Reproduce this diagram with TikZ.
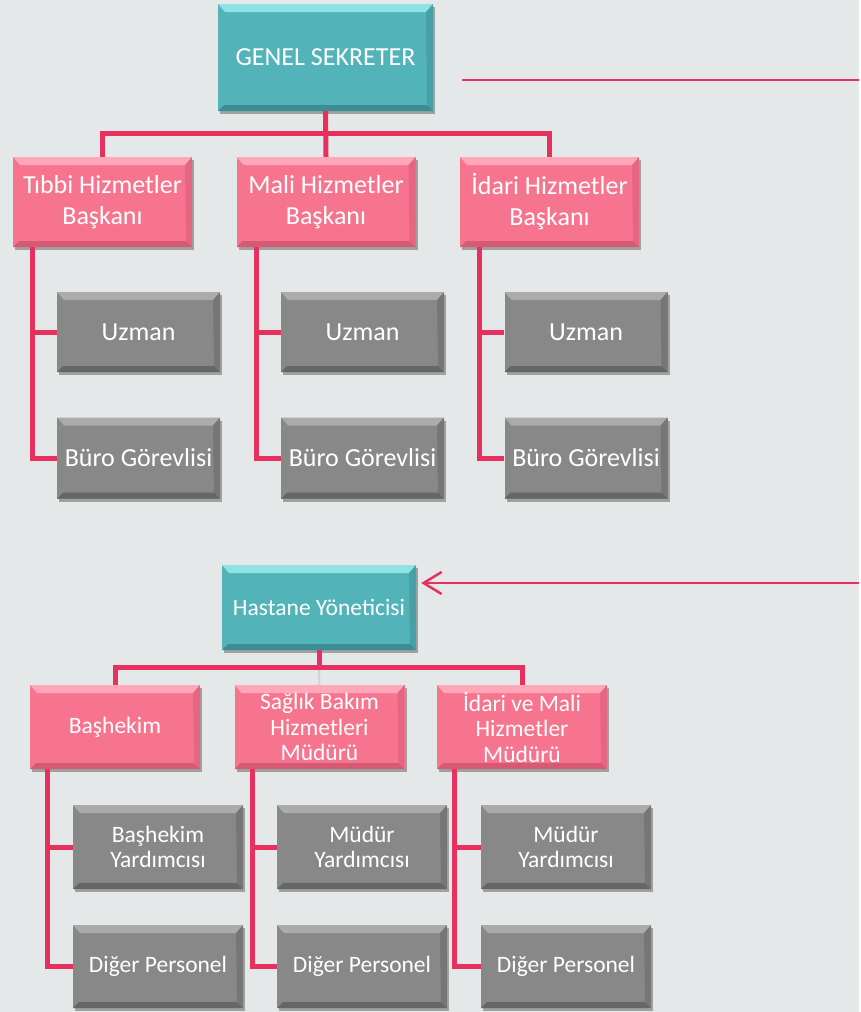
\documentclass[tikz,border=0pt]{standalone}
\usepackage{fontspec}
\setmainfont{Carlito}
\usetikzlibrary{arrows.meta,shadows}

\definecolor{tealbox}{HTML}{52B4B9}
\definecolor{teallight}{HTML}{8FE2E5}
\definecolor{tealdark}{HTML}{3C8E92}
\definecolor{pinkbox}{HTML}{F7748F}
\definecolor{pinklight}{HTML}{FFA6B9}
\definecolor{pinkdark}{HTML}{D65A74}
\definecolor{graybox}{HTML}{888888}
\definecolor{graylight}{HTML}{ABABAB}
\definecolor{graydark}{HTML}{666666}
\definecolor{linkred}{HTML}{E8305E}
\definecolor{backcol}{HTML}{E4E8E8}

\tikzset{
    bevel/.style 2 args={path picture={
        \fill[#1] (path picture bounding box.north west) -- (path picture bounding box.north east)
            -- ([shift={(-7pt,-8pt)}]path picture bounding box.north east)
            -- ([shift={(7pt,-8pt)}]path picture bounding box.north west) -- cycle;
        \fill[#2] (path picture bounding box.south west) -- (path picture bounding box.south east)
            -- ([shift={(-6pt,6pt)}]path picture bounding box.south east)
            -- ([shift={(6pt,6pt)}]path picture bounding box.south west) -- cycle;
        \fill[#2, opacity=.5] (path picture bounding box.south east) -- (path picture bounding box.north east)
            -- ([shift={(-7pt,-8pt)}]path picture bounding box.north east)
            -- ([shift={(-6pt,6pt)}]path picture bounding box.south east) -- cycle;
    }},
    box/.style={rectangle, inner sep=0pt, align=center, text=white,
        drop shadow={shadow xshift=2pt, shadow yshift=-3pt, fill=black, opacity=.3}},
    chief/.style={box, fill=tealbox, bevel={teallight}{tealdark}},
    head/.style={box, fill=pinkbox, bevel={pinklight}{pinkdark}},
    staff/.style={box, fill=graybox, bevel={graylight}{graydark}},
    big/.style={font=\fontsize{26}{31}\selectfont},
    small/.style={font=\fontsize{23.5}{25.5}\selectfont},
    conn/.style={draw=linkred, line width=5pt},
    pointer/.style={draw=linkred, line width=2.5pt}
}

\begin{document}
\begin{tikzpicture}[x=1pt, y=-1pt]
    \fill[backcol] (0,0) rectangle (859,1012);

    % upper chart
    \node[chief, big, minimum width=215, minimum height=107] (gs) at (325.5,57.5) {GENEL SEKRETER};
    \node[head, big, minimum width=179, minimum height=90] (tibbi) at (102.5,202) {Tıbbi Hizmetler\\Başkanı};
    \node[head, big, minimum width=179, minimum height=90] (mali) at (326,202) {Mali Hizmetler\\Başkanı};
    \node[head, big, minimum width=179, minimum height=90] (idari) at (549.5,202) {İdari Hizmetler\\Başkanı};

    \foreach \n/\h/\x in {1/tibbi/138.5, 2/mali/362.5, 3/idari/586} {
        \node[staff, big, minimum width=163, minimum height=80] (uzman\n) at (\x,332) {Uzman};
        \node[staff, big, minimum width=163, minimum height=81] (buro\n) at (\x,458) {Büro Görevlisi};
        \draw[conn] ([xshift=20pt]\h.south west) |- (uzman\n.west);
        \draw[conn] ([xshift=20pt]\h.south west) |- (buro\n.west);
    }

    \coordinate (topbus) at (326,133);
    \draw[conn] (tibbi.north) |- (topbus) -| (idari.north);
    \draw[conn] (gs.south) -- (mali.north);

    \coordinate (topend) at (859,80);
    \draw[pointer] ([xshift=29pt]gs.east |- topend) -- (topend);

    % lower chart
    \node[chief, small, minimum width=194, minimum height=85] (hy) at (319,607.5) {Hastane Yöneticisi};
    \node[head, small, minimum width=170, minimum height=84] (bashekim) at (115,727) {Başhekim};
    \node[head, small, minimum width=170, minimum height=84] (saglik) at (319.5,727) {Sağlık Bakım\\Hizmetleri\\Müdürü};
    \node[head, small, minimum width=170, minimum height=84] (idarimali) at (522,727) {İdari ve Mali\\Hizmetler\\Müdürü};

    \node[staff, small, minimum width=170, minimum height=84] (yrd1) at (158,847) {Başhekim\\Yardımcısı};
    \node[staff, small, minimum width=170, minimum height=84] (yrd2) at (362,847) {Müdür\\Yardımcısı};
    \node[staff, small, minimum width=170, minimum height=84] (yrd3) at (566,847) {Müdür\\Yardımcısı};
    \foreach \n/\x in {1/158, 2/362, 3/566} {
        \node[staff, small, minimum width=170, minimum height=83] (diger\n) at (\x,966.5) {Diğer Personel};
    }
    \foreach \n/\h in {1/bashekim, 2/saglik, 3/idarimali} {
        \draw[conn] ([xshift=18pt]\h.south west) |- (yrd\n.west);
        \draw[conn] ([xshift=18pt]\h.south west) |- (diger\n.west);
    }

    \coordinate (botbus) at (319,667);
    \draw[gray!35, line width=2pt] (botbus) -- (saglik.north);
    \draw[conn] (bashekim.north) |- (botbus) -| (idarimali.north);
    \draw[conn] (hy.south) -- (botbus);

    \coordinate (botend) at (859,583);
    \draw[pointer, -{Straight Barb[length=18pt, width=22pt]}, shorten >=5pt] (botend) -- (hy.east |- botend);
\end{tikzpicture}
\end{document}
